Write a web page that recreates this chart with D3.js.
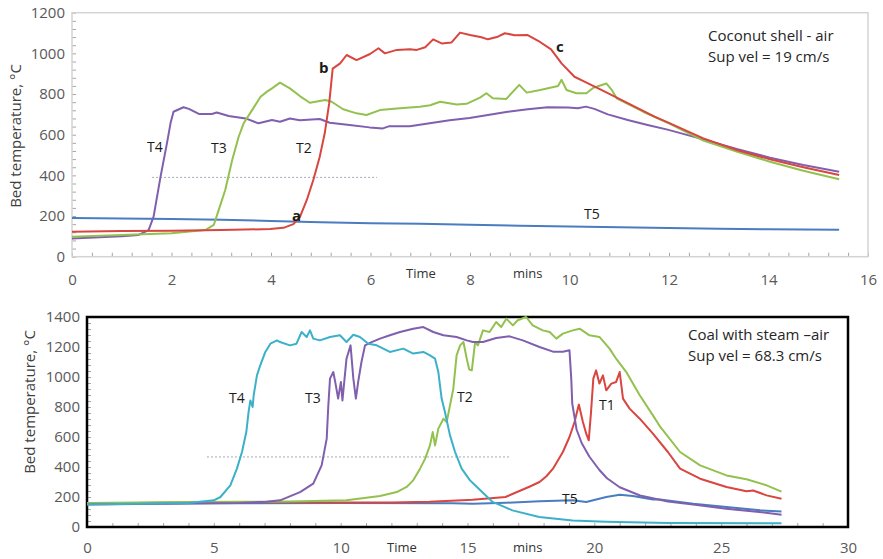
<!DOCTYPE html>
<html>
<head>
  <meta charset="utf-8">
  <script src="https://d3js.org/d3.v7.min.js"></script>
  <style>
    body { margin: 0; background: #fff; }
    text { font-family: "Open Sans", sans-serif; }
  </style>
</head>
<body>
<div id="chartContainer"></div>
<script type="text/javascript">
"use strict";

// ---- top panel: coconut shell - air ----
var topT2 = [[0,123],[1,126],[2,128],[3,131],[3.98,136],[4.25,142],[4.45,160],[4.58,195],[4.72,279],[4.85,377],[4.98,492],[5.08,607],[5.17,755],[5.24,925],[5.39,951],[5.52,992],[5.72,967],[5.99,997],[6.16,1025],[6.29,1000],[6.53,1017],[6.79,1020],[6.93,1017],[7.1,1030],[7.26,1069],[7.43,1049],[7.63,1054],[7.8,1102],[8.0,1090],[8.23,1079],[8.36,1069],[8.56,1082],[8.7,1099],[8.9,1089],[9.16,1090],[9.37,1062],[9.63,1020],[9.84,951],[10.1,885],[10.3,861],[10.64,820],[10.98,779],[11.31,738],[11.71,689],[12.02,656],[12.69,582],[13.36,525],[14.03,479],[14.7,440],[15.42,402]];
var topT3 = [[0,98],[1,107],[2,115],[2.68,131],[2.85,156],[2.95,230],[3.08,328],[3.22,476],[3.35,590],[3.45,656],[3.62,721],[3.79,787],[3.92,812],[4.02,828],[4.18,856],[4.38,828],[4.58,790],[4.78,757],[5.09,771],[5.22,762],[5.45,725],[5.72,705],[5.92,697],[6.19,721],[6.59,730],[6.99,738],[7.2,745],[7.4,762],[7.73,749],[7.93,752],[8.2,782],[8.33,804],[8.46,779],[8.73,776],[8.99,845],[9.14,807],[9.41,820],[9.77,840],[9.84,870],[9.94,820],[10.14,804],[10.34,804],[10.48,831],[10.74,852],[10.85,820],[10.95,779],[11.48,713],[12.02,653],[12.69,571],[13.36,517],[14.03,467],[14.7,423],[15.42,381]];
var topT4 = [[0,90],[1,100],[1.34,107],[1.54,131],[1.64,197],[1.78,394],[1.91,560],[1.98,656],[2.04,713],[2.24,735],[2.35,727],[2.55,702],[2.81,702],[2.91,709],[3.15,692],[3.49,680],[3.75,656],[4.02,672],[4.18,664],[4.38,680],[4.58,671],[4.98,677],[5.18,659],[5.58,648],[5.98,636],[6.25,631],[6.38,642],[6.79,642],[7.19,656],[7.59,671],[7.99,682],[8.36,697],[8.76,713],[9.16,725],[9.56,735],[9.97,734],[10.17,730],[10.33,738],[10.5,727],[10.77,700],[11.17,672],[11.57,648],[11.97,625],[12.69,577],[13.36,530],[14.03,487],[14.7,451],[15.42,418]];
var topT5 = [[0,190],[1,188],[2,186],[3,182],[4,176],[5,170],[6,165],[7,162],[8,157],[9,152],[10,148],[11,145],[12,141],[13,138],[14,135],[15.42,132]];
var topGuide = [[1.61,390],[6.13,390]];
var topXTicks = [0, 2, 4, 6, 8, 10, 12, 14, 16];
var topYTicks = [0, 200, 400, 600, 800, 1000, 1200];

// ---- bottom panel: coal with steam - air ----
var botT1 = [[0,155],[2,160],[5,165],[8,165],[10,163],[12,163],[13.5,168],[14.8,178],[15.2,182],[16.5,200],[17.46,270],[17.84,300],[18.12,340],[18.37,389],[18.76,500],[19.02,600],[19.22,700],[19.39,816],[19.55,700],[19.68,622],[19.78,578],[19.87,767],[19.96,989],[20.07,1044],[20.2,956],[20.34,1011],[20.47,911],[20.67,956],[20.86,967],[21.0,1033],[21.13,856],[21.39,789],[21.79,722],[22.31,622],[22.9,500],[23.38,389],[24.17,322],[25.21,267],[26.0,238],[26.26,243],[26.79,211],[27.38,188]];
var botT2 = [[0,160],[3,165],[6,168],[8,170],[10.23,178],[11.55,207],[12.21,233],[12.6,267],[12.86,311],[13.13,389],[13.33,456],[13.52,544],[13.63,633],[13.72,544],[13.85,656],[14.05,722],[14.18,700],[14.31,811],[14.44,922],[14.57,1144],[14.71,1211],[14.84,1233],[14.97,1122],[15.07,1050],[15.17,1044],[15.3,1233],[15.41,1211],[15.61,1311],[15.87,1300],[16.13,1367],[16.33,1333],[16.53,1389],[16.79,1344],[16.98,1378],[17.31,1400],[17.57,1344],[17.97,1311],[18.24,1300],[18.5,1256],[18.76,1289],[19.15,1311],[19.42,1322],[19.81,1278],[20.2,1267],[20.6,1189],[20.86,1122],[21.26,1033],[21.79,878],[22.31,744],[22.6,667],[23.38,500],[24.17,411],[25.21,344],[26.0,318],[26.79,278],[27.38,236]];
var botT3 = [[0,150],[3,155],[6,160],[7.08,169],[7.61,178],[8.4,233],[8.92,289],[9.25,411],[9.45,589],[9.51,800],[9.58,989],[9.71,1033],[9.81,944],[9.9,856],[10.01,967],[10.07,844],[10.23,1122],[10.39,1211],[10.5,989],[10.6,856],[10.69,967],[10.82,1100],[10.96,1211],[11.22,1233],[11.55,1256],[11.94,1278],[12.34,1300],[12.86,1322],[13.26,1333],[13.65,1300],[14.05,1278],[14.57,1267],[14.97,1244],[15.21,1233],[15.61,1233],[16.13,1260],[16.66,1271],[17.18,1244],[17.84,1200],[18.37,1169],[18.76,1169],[19.02,1178],[19.09,989],[19.13,822],[19.3,650],[19.5,560],[19.8,470],[20.2,380],[20.5,325],[21.0,265],[21.8,210],[22.9,170],[23.9,150],[25.2,122],[26.5,100],[27.38,82]];
var botT4 = [[0,150],[2,155],[4,160],[5.0,178],[5.26,200],[5.65,278],[5.91,389],[6.11,500],[6.28,633],[6.37,767],[6.44,844],[6.53,800],[6.57,878],[6.7,1011],[6.83,1078],[7.03,1167],[7.23,1222],[7.49,1244],[7.61,1233],[8.0,1211],[8.26,1222],[8.46,1300],[8.66,1267],[8.79,1311],[8.92,1256],[9.18,1244],[9.58,1267],[9.97,1278],[10.23,1233],[10.5,1282],[10.76,1267],[11.09,1222],[11.42,1211],[11.94,1167],[12.47,1189],[12.86,1156],[13.26,1167],[13.52,1144],[13.72,1122],[13.85,1033],[13.98,856],[14.11,767],[14.31,611],[14.51,500],[14.77,389],[15.1,311],[15.3,278],[15.99,167],[16.77,111],[17.83,67],[19.14,44],[20.46,35],[22.9,27],[27.38,25]];
var botT5 = [[0,155],[5,158],[10,160],[14.4,158],[15.21,155],[16.53,162],[17.84,171],[19.15,178],[19.68,167],[20.47,200],[21.0,215],[21.52,207],[22.31,184],[22.59,184],[23.9,155],[25.21,133],[26.53,111],[27.38,104]];
var botGuide = [[4.73,467],[16.67,467]];
var botXTicks = [0, 5, 10, 15, 20, 25, 30];
var botYTicks = [0, 200, 400, 600, 800, 1000, 1200, 1400];

var RED = "#d9453f", GREEN = "#93c14f", PURPLE = "#7f5fae", BLUE = "#4a7cc0", CYAN = "#3cb0c9";

var svg = d3.select("#chartContainer").append("svg")
    .attr("width", 883).attr("height", 559);

function drawPanel(p) {
    var x = d3.scaleLinear().domain(p.xDomain).range([p.left, p.right]);
    var y = d3.scaleLinear().domain(p.yDomain).range([p.bottom, p.top]);
    var g = svg.append("g");
    var fmt = d3.format("d");

    // minor ticks, inside the plot
    g.append("g")
        .attr("transform", "translate(0," + p.bottom + ")")
        .call(d3.axisBottom(x).tickValues(d3.range(p.xDomain[0], p.xDomain[1] + 1e-9, p.xMinor)).tickSize(-4).tickFormat(""))
        .call(function (a) { a.select(".domain").remove(); a.selectAll("line").attr("stroke", "#a6a6a6"); });
    g.append("g")
        .attr("transform", "translate(" + p.left + ",0)")
        .call(d3.axisLeft(y).tickValues(d3.range(p.yDomain[0], p.yDomain[1] + 1e-9, p.yMinor)).tickSize(-4).tickFormat(""))
        .call(function (a) { a.select(".domain").remove(); a.selectAll("line").attr("stroke", "#a6a6a6"); });

    // tick labels
    g.append("g")
        .attr("transform", "translate(0," + p.bottom + ")")
        .call(d3.axisBottom(x).tickValues(p.xTicks).tickSize(0).tickPadding(p.xPad).tickFormat(fmt))
        .call(function (a) {
            a.select(".domain").remove();
            a.selectAll("text").attr("fill", "#595959").style("font-size", "15px").style("font-family", "Open Sans");
        });
    g.append("g")
        .attr("transform", "translate(" + p.left + ",0)")
        .call(d3.axisLeft(y).tickValues(p.yTicks).tickSize(0).tickPadding(7).tickFormat(fmt))
        .call(function (a) {
            a.select(".domain").remove();
            a.selectAll("text").attr("fill", "#595959").style("font-size", "15px").style("font-family", "Open Sans");
        });

    // plot frame
    g.append("rect")
        .attr("x", p.left).attr("y", p.top)
        .attr("width", p.right - p.left).attr("height", p.bottom - p.top)
        .attr("fill", "none").attr("stroke", p.frameColor).attr("stroke-width", p.frameWidth);

    var line = d3.line().x(function (d) { return x(d[0]); }).y(function (d) { return y(d[1]); });

    g.append("path").datum(p.guide)
        .attr("d", line).attr("fill", "none")
        .attr("stroke", "#a9a6b8").attr("stroke-width", 1).attr("stroke-dasharray", "2,2");

    p.series.forEach(function (s) {
        g.append("path").datum(s.data)
            .attr("d", line).attr("fill", "none")
            .attr("stroke", s.color).attr("stroke-width", 2)
            .attr("stroke-linejoin", "round");
    });

    // axis titles
    g.append("text")
        .attr("transform", "translate(" + p.yTitle[0] + "," + p.yTitle[1] + ") rotate(-90)")
        .attr("text-anchor", "middle").attr("dy", "0.35em")
        .attr("fill", "#404040").style("font-size", "15px")
        .text("Bed temperature, °C");
    g.append("text").attr("x", p.timeX).attr("y", p.timeY)
        .attr("fill", "#333").style("font-size", "13px").text("Time");
    g.append("text").attr("x", p.minsX).attr("y", p.timeY)
        .attr("fill", "#333").style("font-size", "13px").text("mins");

    // curve labels
    p.labels.forEach(function (l) {
        g.append("text").attr("x", l.x).attr("y", l.y).attr("dy", "0.35em")
            .attr("fill", "#1a1a1a")
            .style("font-size", l.bold ? "15px" : "14px")
            .style("font-weight", l.bold ? "bold" : "normal")
            .text(l.t);
    });

    p.note.forEach(function (t, i) {
        g.append("text").attr("x", p.noteX).attr("y", p.noteY + i * 21).attr("dy", "0.35em")
            .attr("fill", "#262626").style("font-size", "15px").text(t);
    });
}

drawPanel({
    left: 72, right: 868, top: 12.7, bottom: 256.7,
    xDomain: [0, 16], yDomain: [0, 1200], xMinor: 0.4, yMinor: 40,
    xTicks: topXTicks, yTicks: topYTicks, xPad: 18,
    frameColor: "#d4d4d4", frameWidth: 1.5,
    guide: topGuide,
    series: [
        {data: topT5, color: BLUE},
        {data: topT4, color: PURPLE},
        {data: topT3, color: GREEN},
        {data: topT2, color: RED}
    ],
    yTitle: [16, 136], timeX: 406, minsX: 513, timeY: 278,
    labels: [
        {t: "T4", x: 147, y: 147}, {t: "T3", x: 211, y: 148}, {t: "T2", x: 296, y: 148},
        {t: "a", x: 292, y: 216, bold: true}, {t: "b", x: 319, y: 68, bold: true},
        {t: "c", x: 556, y: 47, bold: true}, {t: "T5", x: 584, y: 214}
    ],
    note: ["Coconut shell - air", "Sup vel = 19 cm/s"], noteX: 708, noteY: 36
});

drawPanel({
    left: 87, right: 848, top: 317, bottom: 527,
    xDomain: [0, 30], yDomain: [0, 1400], xMinor: 1, yMinor: 40,
    xTicks: botXTicks, yTicks: botYTicks, xPad: 15.5,
    frameColor: "#000", frameWidth: 2.5,
    guide: botGuide,
    series: [
        {data: botT5, color: BLUE},
        {data: botT1, color: RED},
        {data: botT2, color: GREEN},
        {data: botT3, color: PURPLE},
        {data: botT4, color: CYAN}
    ],
    yTitle: [30, 402], timeX: 387, minsX: 513, timeY: 552,
    labels: [
        {t: "T4", x: 229, y: 398}, {t: "T3", x: 305, y: 398}, {t: "T2", x: 457, y: 397},
        {t: "T1", x: 599, y: 405}, {t: "T5", x: 562, y: 499}
    ],
    note: ["Coal with steam \u2013air", "Sup vel = 68.3 cm/s"], noteX: 688, noteY: 335
});
</script>
</body>
</html>
